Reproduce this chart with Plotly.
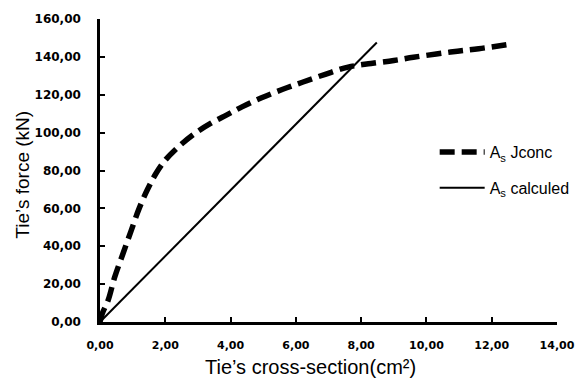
import plotly.graph_objects as go

# Data
jconc_x = [0.0, 0.07, 0.25, 0.45, 0.7, 0.95, 1.2, 1.45, 1.7, 2.0, 2.4, 2.9, 3.4, 3.9, 4.35,
           4.95, 5.6, 6.2, 6.9, 7.6, 8.3, 9.0, 9.6, 10.3, 10.95, 11.6, 12.45]
jconc_y = [0.0, 4.5, 11.5, 23.7, 35.9, 48.0, 60.0, 69.8, 78.0, 85.5, 92.5, 99.5, 105.0, 109.5, 113.6,
           118.4, 122.9, 126.6, 130.8, 134.6, 136.5, 138.1, 139.8, 141.5, 143.0, 144.3, 146.4]
calc_x = [0.0, 8.48]
calc_y = [0.0, 147.6]

x_ticks = [0, 2, 4, 6, 8, 10, 12, 14]
y_ticks = [0, 20, 40, 60, 80, 100, 120, 140, 160]

fig = go.Figure()
fig.add_trace(go.Scatter(
    x=jconc_x, y=jconc_y, mode="lines", name="A<sub>s</sub> Jconc", legendgroup="a",
    line=dict(color="black", width=5.5, dash="15px,7px", shape="spline", smoothing=1.0),
))
fig.add_trace(go.Scatter(
    x=calc_x, y=calc_y, mode="lines", name="A<sub>s</sub> calculed", legendgroup="b",
    line=dict(color="black", width=2),
))

fig.update_layout(
    width=587, height=390,
    margin=dict(l=100, r=20, t=15, b=68),
    paper_bgcolor="white", plot_bgcolor="white",
    separators=", ",
    font=dict(family="Liberation Sans", color="black"),
    showlegend=True,
    legend=dict(
        x=(442 - 100) / 467, y=(322 - 168) / 307, xanchor="left", yanchor="middle",
        font=dict(family="Liberation Sans", size=16, color="black"),
        bgcolor="rgba(0,0,0,0)", tracegroupgap=12, itemwidth=45,
        traceorder="grouped",
    ),
    xaxis=dict(
        range=[0, 14], tickvals=x_ticks, tickformat=".2f",
        showgrid=False, zeroline=False, showline=True, linecolor="black", linewidth=2.5,
        ticks="inside", ticklen=5, tickwidth=2, tickcolor="black",
        tickfont=dict(family="DejaVu Sans", size=11, color="black", weight="bold"),
        ticklabelstandoff=11,
    ),
    yaxis=dict(
        range=[0, 160], tickvals=y_ticks, tickformat=".2f",
        showgrid=False, zeroline=False, showline=True, linecolor="black", linewidth=2.5,
        ticks="inside", ticklen=5, tickwidth=2, tickcolor="black",
        tickfont=dict(family="DejaVu Sans", size=12, color="black", weight="bold"),
        ticklabelstandoff=14,
    ),
    annotations=[
        dict(text="Tie’s cross-section(cm²)", xref="paper", yref="paper",
             x=(315 - 100) / 467, y=-(368 - 322) / 307, xanchor="center", yanchor="middle",
             showarrow=False, font=dict(family="Liberation Sans", size=20, color="black")),
        dict(text="Tie’s force (kN)", xref="paper", yref="paper",
             x=-(100 - 21) / 467, y=(322 - 173) / 307, xanchor="center", yanchor="middle",
             textangle=-90, showarrow=False,
             font=dict(family="Liberation Sans", size=19, color="black")),
    ],
)

fig.write_html("out.html")
